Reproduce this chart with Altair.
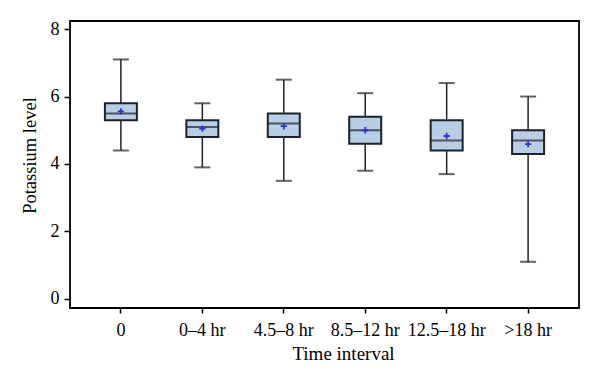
import altair as alt
import pandas as pd

groups = ["0", "0\u20134 hr", "4.5\u20138 hr", "8.5\u201312 hr", "12.5\u201318 hr", ">18 hr"]
whisker_low = [4.4, 3.9, 3.5, 3.8, 3.7, 1.1]
q1 = [5.3, 4.8, 4.8, 4.6, 4.4, 4.3]
median = [5.5, 5.1, 5.2, 5.0, 4.7, 4.7]
q3 = [5.8, 5.3, 5.5, 5.4, 5.3, 5.0]
whisker_high = [7.1, 5.8, 6.5, 6.1, 6.4, 6.0]
mean = [5.56, 5.05, 5.12, 5.0, 4.83, 4.59]

df = pd.DataFrame({
    "group": groups, "lo": whisker_low, "q1": q1, "med": median,
    "q3": q3, "hi": whisker_high, "mean": mean,
})

FONT = "Liberation Serif"
EDGE = "#1c222c"

x = alt.X("group:N", sort=groups, title="Time interval",
          scale=alt.Scale(paddingInner=0, paddingOuter=0.125),
          axis=alt.Axis(labelAngle=0, ticks=True, tickSize=5, domain=False,
                        labelFontSize=18, titleFontSize=19, labelPadding=8,
                        titlePadding=5, titleX=273))
yscale = alt.Scale(domain=[-0.27, 8.24], nice=False, zero=False)
y_axis = alt.Axis(values=[0, 2, 4, 6, 8], tickSize=6, domain=False, grid=False,
                  labelFontSize=18, titleFontSize=18.5, labelPadding=5, titlePadding=11,
                  titleY=134)

base = alt.Chart(df)

whisk = base.mark_rule(color=EDGE, strokeWidth=1.5).encode(
    x=x,
    y=alt.Y("lo:Q", scale=yscale, axis=y_axis, title="Potassium level"),
    y2="hi:Q",
)
caps_hi = base.mark_tick(color=EDGE, size=16, thickness=2).encode(x=x, y=alt.Y("hi:Q", scale=yscale))
caps_lo = base.mark_tick(color=EDGE, size=16, thickness=2).encode(x=x, y=alt.Y("lo:Q", scale=yscale))
box = base.mark_bar(size=32, color="#b9cde5", stroke=EDGE, strokeWidth=2).encode(
    x=x, y=alt.Y("q1:Q", scale=yscale), y2="q3:Q")
med = base.mark_tick(color=EDGE, size=32, thickness=2).encode(x=x, y=alt.Y("med:Q", scale=yscale))
mn = base.mark_point(shape="M-1,0L1,0M0,-1L0,1", color="#3030d0", filled=False,
                     size=40, strokeWidth=1.8, opacity=1).encode(
    x=x, y=alt.Y("mean:Q", scale=yscale))

chart = alt.layer(whisk, caps_hi, caps_lo, box, med, mn).properties(
    width=509, height=287,
    autosize=alt.AutoSizeParams(type="none"),
    padding={"left": 62, "top": 13, "right": 13, "bottom": 73},
).configure_view(stroke="black", strokeWidth=1.8).configure_axis(
    labelFont=FONT, titleFont=FONT, labelColor="black", titleColor="black",
    tickColor="black", tickWidth=1.5, titleFontWeight="normal",
)

chart.save("out.html", embed_options={"renderer": "svg", "actions": False})
